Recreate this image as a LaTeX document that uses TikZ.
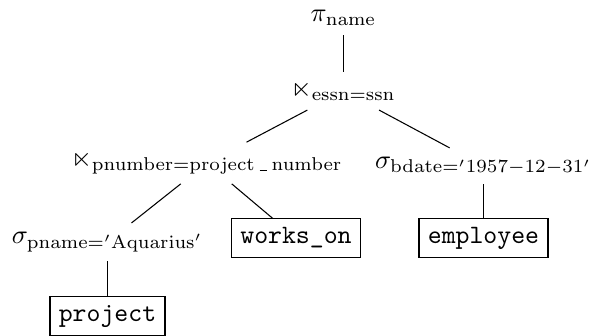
\documentclass[tikz,border=0pt]{standalone}
\usepackage{amssymb}
\newcommand{\usc}{\mbox{\kern1.8pt\vbox{\hrule width 2.7pt}\kern1.8pt}}
\begin{document}
\begin{tikzpicture}[x=0.37736pt,y=-0.37736pt,
  op/.style={inner sep=3.33pt},
  tbl/.style={draw, inner sep=3.33pt, font=\ttfamily}]
\useasboundingbox (0,0) rectangle (594,335);
\node[op] (pi) at (343.5,18) {$\pi_{\mathrm{name}}$};
\node[op] (j1) at (343.5,91) {${\ltimes}_{\mathrm{essn=ssn}}$};
\node[op] (j2) at (207,163) {${\ltimes}_{\mathrm{pnumber=project}\usc\mathrm{number}}$};
\node[op] (sb) at (483.5,166) {$\sigma_{\mathrm{bdate}='1957-12-31'}$};
\node[op] (sp) at (107.5,242) {$\sigma_{\mathrm{pname}='\mathrm{Aquarius}'}$};
\node[tbl] (wo) at (296,238) {works\_on};
\node[tbl] (em) at (483.5,238) {employee};
\node[tbl] (pr) at (107.5,316) {project};
\draw (pi) -- (j1);
\draw (j1) -- (j2);
\draw (j1) -- (sb);
\draw (j2) -- (sp);
\draw (j2) -- (wo);
\draw (sb) -- (em);
\draw (sp) -- (pr);
\end{tikzpicture}
\end{document}
